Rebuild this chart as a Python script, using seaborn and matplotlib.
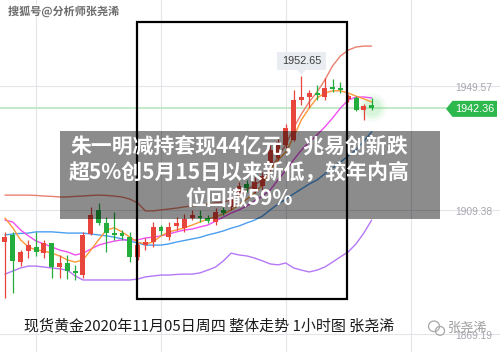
import numpy as np
import pandas as pd
import matplotlib
matplotlib.use("Agg")
import matplotlib.pyplot as plt
import matplotlib.transforms as mtransforms
import matplotlib.patheffects as pe
from matplotlib.patches import Rectangle, Polygon, Ellipse
import seaborn as sns

# ---------------- data (1-hour XAU/USD candles) ----------------
opens = [1899.0, 1901.3, 1892.5, 1896.1, 1897.4, 1895.4, 1898.7, 1890.9, 1892.2, 1889.6,
         1888.3, 1901.6, 1909.4, 1905.2, 1901.9, 1901.9, 1900.6, 1894.2, 1898.0, 1899.0,
         1903.9, 1900.6, 1904.2, 1903.6, 1906.8, 1907.4, 1906.8, 1905.5, 1909.4, 1910.4,
         1914.6, 1917.8, 1915.9, 1917.2, 1924.0, 1926.2, 1930.5, 1932.1, 1945.0, 1946.0,
         1947.3, 1946.0, 1949.2, 1948.9, 1945.4, 1945.7, 1941.8, 1943.4]
highs = [1902.3, 1902.3, 1896.4, 1899.7, 1902.3, 1899.7, 1898.7, 1894.8, 1894.8, 1891.6,
         1902.3, 1910.4, 1911.7, 1907.1, 1908.7, 1902.9, 1902.3, 1898.7, 1900.3, 1905.5,
         1904.5, 1905.5, 1907.1, 1908.1, 1909.4, 1909.4, 1907.8, 1910.0, 1910.4, 1913.9,
         1918.5, 1919.1, 1920.1, 1921.7, 1930.5, 1932.7, 1937.3, 1948.3, 1952.65, 1948.3,
         1949.9, 1952.2, 1951.8, 1950.9, 1947.0, 1946.3, 1943.7, 1945.7]
lows = [1880.9, 1882.5, 1891.2, 1893.8, 1894.5, 1893.8, 1887.3, 1887.3, 1887.0, 1886.7,
        1887.3, 1901.3, 1904.5, 1895.8, 1899.7, 1899.7, 1892.5, 1893.2, 1896.4, 1897.4,
        1901.3, 1899.7, 1902.9, 1902.3, 1906.1, 1905.5, 1905.2, 1904.5, 1907.8, 1909.4,
        1913.6, 1915.2, 1914.9, 1915.9, 1922.3, 1925.6, 1929.5, 1931.7, 1943.4, 1942.4,
        1945.0, 1945.0, 1947.6, 1947.3, 1944.4, 1941.5, 1938.6, 1941.8]
closes = [1900.6, 1892.9, 1895.8, 1898.0, 1895.8, 1898.7, 1890.9, 1892.2, 1889.6, 1889.0,
          1901.3, 1907.8, 1905.2, 1901.9, 1901.3, 1901.0, 1894.2, 1898.0, 1899.0, 1903.9,
          1902.6, 1903.9, 1905.2, 1906.5, 1907.8, 1906.8, 1905.8, 1908.7, 1908.4, 1912.6,
          1917.2, 1916.5, 1918.5, 1920.4, 1928.8, 1931.4, 1936.0, 1945.0, 1946.0, 1947.3,
          1946.7, 1948.9, 1948.6, 1948.3, 1946.3, 1941.8, 1943.1, 1942.36]

ma5 = [1906.8, 1903.6, 1899.7, 1897.4, 1896.4, 1896.1, 1895.4, 1894.5, 1893.2, 1892.5,
       1893.2, 1896.4, 1899.7, 1902.9, 1903.6, 1902.3, 1900.6, 1899.0, 1898.4, 1899.0,
       1901.0, 1902.3, 1902.9, 1903.6, 1904.5, 1905.5, 1906.5, 1907.1, 1908.1, 1909.4,
       1911.0, 1912.9, 1914.9, 1917.5, 1922.3, 1925.6, 1928.2, 1933.0, 1938.6, 1942.4,
       1945.7, 1947.3, 1948.0, 1948.0, 1947.3, 1946.3, 1945.4, 1944.4]
ma10 = [1906.1, 1905.5, 1902.9, 1901.0, 1899.3, 1898.4, 1897.4, 1896.4, 1895.8, 1894.8,
        1895.4, 1896.7, 1898.0, 1898.7, 1899.3, 1899.7, 1899.7, 1899.7, 1900.3, 1900.6,
        1901.0, 1901.6, 1902.3, 1902.9, 1903.2, 1903.9, 1904.5, 1905.8, 1907.1, 1908.4,
        1909.4, 1910.7, 1912.3, 1913.9, 1915.9, 1919.1, 1922.3, 1925.6, 1928.8, 1931.4,
        1933.7, 1936.3, 1939.2, 1942.4, 1945.0, 1946.0, 1946.0, 1945.7]
boll_up = [1914.2, 1914.2, 1914.2, 1914.2, 1914.1, 1913.9, 1913.8, 1913.6, 1913.6, 1913.8,
           1913.9, 1914.1, 1914.2, 1914.1, 1913.9, 1913.6, 1912.9, 1911.7, 1909.1, 1909.1,
           1909.4, 1909.7, 1910.0, 1910.4, 1910.7, 1911.0, 1911.3, 1911.7, 1912.0, 1912.6,
           1914.2, 1915.9, 1917.5, 1919.1, 1922.3, 1926.6, 1930.5, 1936.0, 1940.5, 1944.4,
           1947.6, 1951.5, 1956.1, 1959.3, 1961.2, 1962.2, 1962.5, 1962.5]
boll_mid = [1901.3, 1901.6, 1901.8, 1901.9, 1902.3, 1902.3, 1902.3, 1902.1, 1901.9, 1901.9,
            1901.9, 1901.6, 1901.3, 1901.0, 1900.6, 1900.0, 1899.3, 1898.7, 1898.0, 1898.0,
            1898.0, 1898.4, 1899.0, 1899.5, 1900.0, 1900.5, 1901.3, 1901.9, 1902.6, 1903.5,
            1904.2, 1905.2, 1906.1, 1907.4, 1909.4, 1911.3, 1912.9, 1914.6, 1916.2, 1917.8,
            1919.1, 1921.1, 1923.0, 1924.9, 1926.9, 1928.8, 1931.7, 1934.7]
boll_low = [1888.6, 1889.6, 1890.6, 1891.2, 1891.2, 1890.9, 1890.6, 1890.3, 1889.9, 1888.0,
            1886.7, 1886.7, 1886.7, 1886.7, 1886.7, 1886.7, 1886.7, 1887.0, 1887.7, 1888.0,
            1888.3, 1888.3, 1888.5, 1888.6, 1888.6, 1889.0, 1889.9, 1890.9, 1892.9, 1895.4,
            1894.8, 1894.5, 1893.8, 1892.9, 1891.9, 1891.6, 1892.2, 1890.6, 1889.9, 1889.3,
            1889.9, 1890.9, 1892.5, 1894.2, 1895.8, 1898.4, 1901.9, 1906.1]

last_price = 1942.36
peak_price = 1952.65
axis_prices = [1949.57, 1909.38, 1869.19]
grid_candles = [4, 20, 36, 52]

headline = "朱一明减持套现44亿元，兆易创新跌\n超5%创5月15日以来新低，较年内高\n位回撤59%"
caption = "现货黄金2020年11月05日周四 整体走势 1小时图 张尧浠"
source_mark = "搜狐号@分析师张尧浠"
author_mark = "张尧浠"

# ---------------- figure ----------------
sns.set_theme(style="white")
plt.rcParams['font.family'] = ['Noto Sans CJK SC', 'DejaVu Sans']

fig = plt.figure(figsize=(5.0, 3.52), dpi=100)
ax = fig.add_axes([0, 0, 1, 1])
ax.set_xlim(-0.64, 63.46)
ax.set_ylim(1863.36, 1977.44)
ax.axis('off')

df = pd.DataFrame({"idx": np.arange(len(opens)), "open": opens, "high": highs,
                   "low": lows, "close": closes, "ma5": ma5, "ma10": ma10,
                   "up": boll_up, "mid": boll_mid, "lowb": boll_low})

# grid
for p in axis_prices:
    ax.axhline(p, color='#e3e3ea', lw=0.8, zorder=0)
for g in grid_candles:
    ax.axvline(g, color='#e3e3ea', lw=0.8, zorder=0)

# last price line
ax.axhline(last_price, xmin=0, xmax=0.892, color='#bfe8c4', lw=1.3, zorder=1)

# glow around the last candle
for s, a in [(420, 0.06), (260, 0.08), (150, 0.10)]:
    ax.scatter([df.idx.iloc[-1]], [last_price + 0.3], s=s, color='#4cd964', alpha=a,
               lw=0, zorder=1)

# indicator lines
line_specs = [("up", '#e8806e'), ("mid", '#4a9ff0'), ("lowb", '#b578f5'),
              ("ma10", '#f04ff0'), ("ma5", '#ff9838')]
for col, colr in line_specs:
    sns.lineplot(data=df, x="idx", y=col, color=colr, lw=1.0, ax=ax, zorder=2)
ax.set_xlabel("")
ax.set_ylabel("")

# candles (red = up, green = down)
red, green = '#e8453c', '#23ad3d'
colors = [red if c >= o else green for o, c in zip(df.open, df.close)]
ax.vlines(df.idx, df.low, df.high, colors=colors, lw=0.9, zorder=3)
bottoms = np.minimum(df.open, df.close)
heights = np.maximum(np.abs(df.close - df.open), 0.45)
ax.bar(df.idx, heights, bottom=bottoms, width=0.64, color=colors, lw=0, zorder=3)

# tooltip at the high
tip_x = int(np.argmax(df.high))
ax.add_patch(Rectangle((tip_x - 3.15, peak_price + 2.1), 6.3, 5.8, facecolor='#e9ecf0',
                       edgecolor='none', zorder=4))
ax.add_patch(Polygon([(tip_x - 0.55, peak_price + 2.15), (tip_x + 0.55, peak_price + 2.15),
                      (tip_x, peak_price + 0.5)], closed=True, facecolor='#e9ecf0',
                     edgecolor='none', zorder=4))
ax.text(tip_x, peak_price + 5.0, f"{peak_price:.2f}", ha='center', va='center',
        fontsize=7.8, color='#3c3c3c', family='Liberation Sans', zorder=4)

# right-hand price labels
bt = mtransforms.blended_transform_factory(ax.transAxes, ax.transData)
for p in axis_prices:
    ax.text(0.985, p - 0.6, f"{p:.2f}", transform=bt, ha='right', va='center',
            fontsize=7.4, color='#a6a6ae', family='Liberation Sans', zorder=4)

# green last-price tag
tag = Polygon([(0.892, last_price - 0.2), (0.905, last_price + 2.4), (0.994, last_price + 2.4),
               (0.994, last_price - 2.8), (0.905, last_price - 2.8)], closed=True,
              transform=bt, facecolor='#2db84d', edgecolor='none', zorder=4)
ax.add_patch(tag)
ax.text(0.949, last_price - 0.25, f"{last_price:.2f}", transform=bt, ha='center',
        va='center', fontsize=7.8, color='white', family='Liberation Sans', zorder=5)

# banner with headline
ax.add_patch(Rectangle((0.12, 0.378), 0.76, 0.25, transform=ax.transAxes,
                       facecolor='black', alpha=0.45, edgecolor='none', zorder=5))
ax.text(0.479, 0.511, headline, transform=ax.transAxes, ha='center', va='center',
        color='white', fontsize=15, fontweight='bold', linespacing=1.28, zorder=7)

# black highlight frame
ax.add_patch(Rectangle((0.274, 0.1506), 0.42, 0.787, transform=ax.transAxes,
                       fill=False, edgecolor='black', lw=1.6, zorder=6))

# caption
ax.text(0.048, 0.074, caption, transform=ax.transAxes, ha='left', va='center',
        fontsize=10.8, color='#1a1a1a', zorder=7)

# watermarks
ax.text(0.016, 0.966, source_mark, transform=ax.transAxes, ha='left', va='center',
        fontsize=8, fontweight='bold', color='#6a6a6a', zorder=7,
        path_effects=[pe.withStroke(linewidth=1.8, foreground='white')])
ax.text(0.935, 0.066, author_mark, transform=ax.transAxes, ha='center', va='center',
        fontsize=9.5, color='#9e9e9e', zorder=7)
ax.add_patch(Ellipse((0.868, 0.073), 0.022, 0.030, transform=ax.transAxes, fill=False,
                     edgecolor='#a8a8a8', lw=0.9, zorder=7))
ax.add_patch(Ellipse((0.880, 0.060), 0.018, 0.025, transform=ax.transAxes, fill=False,
                     edgecolor='#a8a8a8', lw=0.9, zorder=7))

fig.savefig("out.png", dpi=100)
